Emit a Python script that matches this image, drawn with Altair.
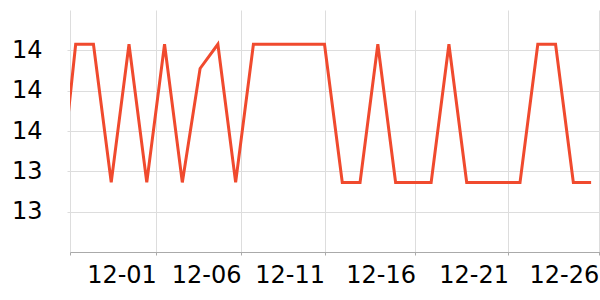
import altair as alt
import pandas as pd

# daily readings (first one lies just left of the visible window)
dates = [
    "2023-11-26", "2023-11-27", "2023-11-28", "2023-11-29", "2023-11-30",
    "2023-12-01", "2023-12-02", "2023-12-03", "2023-12-04", "2023-12-05",
    "2023-12-06", "2023-12-07", "2023-12-08", "2023-12-09", "2023-12-10",
    "2023-12-11", "2023-12-12", "2023-12-13", "2023-12-14", "2023-12-15",
    "2023-12-16", "2023-12-17", "2023-12-18", "2023-12-19", "2023-12-20",
    "2023-12-21", "2023-12-22", "2023-12-23", "2023-12-24", "2023-12-25",
    "2023-12-26",
]
values = [
    13.20, 14.03, 14.03, 13.345, 14.03, 13.345, 14.03, 13.345, 13.91, 14.03,
    13.345, 14.03, 14.03, 14.03, 14.03, 14.03, 13.345, 13.345, 14.03, 13.345,
    13.345, 13.345, 14.03, 13.345, 13.345, 13.345, 13.345, 14.03, 14.03, 13.345,
    13.345,
]
y_ticks = [13.2, 13.4, 13.6, 13.8, 14.0]

df = pd.DataFrame({"date": [d + "T00:00:00" for d in dates], "value": values})

x_domain = [
    alt.DateTime(year=2023, month=11, date=26, hours=16, minutes=20),
    alt.DateTime(year=2023, month=12, date=26, hours=12),
]
x_ticks = [
    alt.DateTime(year=2023, month=11, date=26, hours=16, minutes=20),
    alt.DateTime(year=2023, month=12, date=1, hours=13),
    alt.DateTime(year=2023, month=12, date=6, hours=7, minutes=12),
    alt.DateTime(year=2023, month=12, date=11),
    alt.DateTime(year=2023, month=12, date=16, hours=2, minutes=50),
    alt.DateTime(year=2023, month=12, date=21, hours=8, minutes=24),
    alt.DateTime(year=2023, month=12, date=26, hours=10, minutes=20),
]

chart = (
    alt.Chart(df)
    .mark_line(color="#f04a2e", strokeWidth=3, clip=True)
    .encode(
        x=alt.X(
            "date:T",
            scale=alt.Scale(domain=x_domain),
            axis=alt.Axis(
                title=None,
                values=x_ticks,
                format="%m-%d",
                labelExpr="datum.index == 0 ? '' : datum.label",
                labelAlign="right",
                labelFontSize=24,
                labelColor="#000000",
                labelFont="DejaVu Sans",
                labelPadding=8,
                labelOverlap=False,
                labelFlush=False,
                tickSize=3,
                tickColor="#aaaaaa",
                domainColor="#aaaaaa",
                gridColor="#dddddd",
                grid=True,
            ),
        ),
        y=alt.Y(
            "value:Q",
            scale=alt.Scale(domain=[13.0, 14.2], nice=False, zero=False),
            axis=alt.Axis(
                title=None,
                values=y_ticks,
                format=".0f",
                labelFontSize=24,
                labelColor="#000000",
                labelFont="DejaVu Sans",
                labelPadding=25,
                tickSize=3,
                tickColor="#dddddd",
                domain=False,
                gridColor="#dddddd",
                grid=True,
            ),
        ),
    )
    .properties(
        width=530,
        height=242,
        autosize=alt.AutoSizeParams(type="none"),
        padding={"left": 70, "top": 10, "right": 0, "bottom": 48},
    )
    .configure_view(stroke=None)
)

chart.save("out.html", embed_options={"renderer": "svg", "actions": False})
